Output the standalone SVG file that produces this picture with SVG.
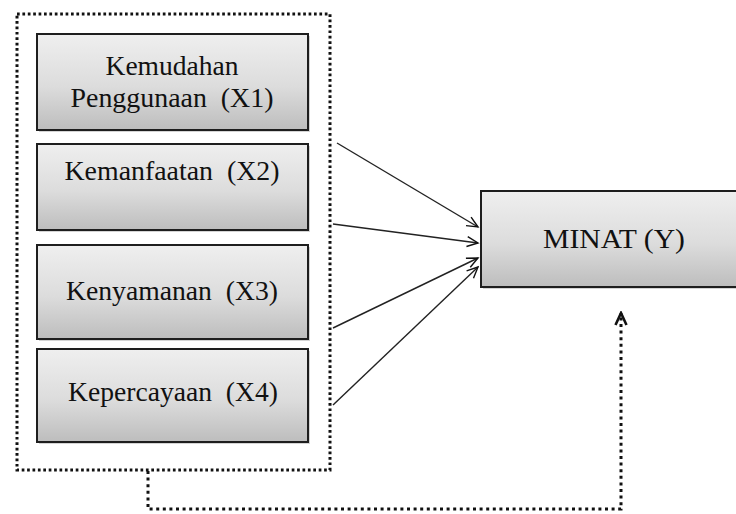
<svg xmlns="http://www.w3.org/2000/svg" width="736" height="514" viewBox="0 0 736 514">
<defs>
<linearGradient id="g" x1="0" y1="0" x2="0" y2="1">
<stop offset="0" stop-color="#efefef"/>
<stop offset="0.55" stop-color="#dcdcdc"/>
<stop offset="1" stop-color="#bdbdbd"/>
</linearGradient>
<marker id="arr" markerWidth="14" markerHeight="12" refX="12" refY="6" orient="auto" markerUnits="userSpaceOnUse">
<path d="M1,1 L12,6 L1,11" fill="none" stroke="#111" stroke-width="1.4"/>
</marker>
<marker id="arr2" markerWidth="16" markerHeight="14" refX="14" refY="7" orient="auto" markerUnits="userSpaceOnUse">
<path d="M2,1.5 L14,7 L2,12.5" fill="none" stroke="#111" stroke-width="2.6"/>
</marker>
</defs>
<style>
.box{fill:url(#g);stroke:#1e1e1e;stroke-width:2}
.sh{fill:#b8b8b8;opacity:0.6}
.t{font-family:"Liberation Serif","Times New Roman",serif;font-size:28px;fill:#111;text-anchor:middle;white-space:pre}
.ln{fill:none;stroke:#222;stroke-width:1.4}
.dot{fill:none;stroke:#111;stroke-width:3;stroke-dasharray:2.7 2.7}
.dot2{fill:none;stroke:#111;stroke-width:3;stroke-dasharray:3 3.6}
</style>
<g id="group">
<rect class="dot" x="17" y="14" width="313" height="456"/>
</g>
<g id="x1">
<rect class="sh" x="39" y="36" width="271" height="96"/>
<rect class="box" x="37" y="34" width="271" height="96"/>
<text class="t" x="172" y="75" textLength="133" lengthAdjust="spacingAndGlyphs">Kemudahan</text>
<text class="t" x="172" y="107" textLength="203" lengthAdjust="spacingAndGlyphs">Penggunaan  (X1)</text>
</g>
<g id="x2">
<rect class="sh" x="39" y="146" width="271" height="86"/>
<rect class="box" x="37" y="144" width="271" height="86"/>
<text class="t" x="172" y="180" textLength="215" lengthAdjust="spacingAndGlyphs">Kemanfaatan  (X2)</text>
</g>
<g id="x3">
<rect class="sh" x="39" y="247" width="271" height="94"/>
<rect class="box" x="37" y="245" width="271" height="94"/>
<text class="t" x="172" y="300" textLength="212" lengthAdjust="spacingAndGlyphs">Kenyamanan  (X3)</text>
</g>
<g id="x4">
<rect class="sh" x="39" y="351" width="271" height="93"/>
<rect class="box" x="37" y="349" width="271" height="93"/>
<text class="t" x="173" y="401" textLength="210" lengthAdjust="spacingAndGlyphs">Kepercayaan  (X4)</text>
</g>
<g id="minat">
<rect class="sh" x="483" y="193" width="260" height="96"/>
<rect class="box" x="481" y="191" width="262" height="96"/>
<text class="t" x="614" y="248" textLength="142" lengthAdjust="spacingAndGlyphs">MINAT (Y)</text>
</g>
<g id="connectors">
<line class="ln" x1="337" y1="143" x2="478" y2="227" marker-end="url(#arr)"/>
<line class="ln" x1="333" y1="224" x2="478" y2="243" marker-end="url(#arr)"/>
<line class="ln" x1="333" y1="328" x2="478" y2="258" marker-end="url(#arr)"/>
<line class="ln" x1="333" y1="405" x2="478" y2="267" marker-end="url(#arr)"/>
<path class="dot2" d="M148,471 L148,509 L621,509 L621,313" marker-end="url(#arr2)"/>
</g>
</svg>
